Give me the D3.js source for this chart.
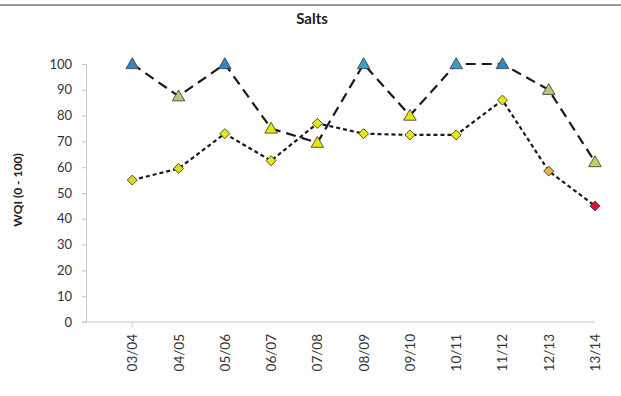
<!DOCTYPE html>
<html>
<head>
<meta charset="utf-8">
<script src="https://cdn.jsdelivr.net/npm/d3@7"></script>
<style>
  html, body { margin: 0; padding: 0; background: #fff; }
  svg { display: block; font-family: Lato, "Open Sans", sans-serif; }
</style>
</head>
<body>
<svg id="chart" width="621" height="396"></svg>
<script>
// Financial years along the category axis
const years = ["03/04", "04/05", "05/06", "06/07", "07/08", "08/09", "09/10", "10/11", "11/12", "12/13", "13/14"];
// Triangle series (long dashes)
const triangleValues = [100, 87.5, 100, 75, 69.5, 100, 80, 100, 100, 90, 62];
const triangleFills = ["#2f86c8", "#b9c47a", "#2f86c8", "#e6e60a", "#e6e60a", "#37a3c9", "#e6e60a", "#37a3c9", "#2f86c8", "#b9c47a", "#c6cf5a"];
// Diamond series (short dashes)
const diamondValues = [55, 59.5, 73, 62.5, 77, 73, 72.5, 72.5, 86, 58.5, 45];
const diamondFills = ["#d6dc1e", "#d6dc1e", "#e8e810", "#e8e810", "#e8e810", "#e8e810", "#e8e810", "#e8e810", "#e8e810", "#e2b444", "#e0103a"];
const yTicks = [0, 10, 20, 30, 40, 50, 60, 70, 80, 90, 100];

const svg = d3.select("#chart");

// Top rule line
svg.append("line")
  .attr("x1", 0).attr("x2", 621).attr("y1", 5).attr("y2", 5)
  .attr("stroke", "#9a9a9a").attr("stroke-width", 2);

// Title
svg.append("text")
  .attr("x", 312).attr("y", 24)
  .attr("text-anchor", "middle")
  .attr("font-size", 15).attr("font-weight", "bold").attr("fill", "#222")
  .text("Salts");

// Scales: first category sits one step in from the value axis
const x = d3.scaleLinear().domain([-1, years.length - 1]).range([86, 595]);
const y = d3.scaleLinear().domain([0, 100]).range([322, 64]);

// Value axis
const yAxis = d3.axisLeft(y).tickValues(yTicks).tickSize(4).tickPadding(10);
const gy = svg.append("g").attr("transform", "translate(86,0)").call(yAxis);
gy.select(".domain").attr("stroke", "#c8c8c8");
gy.selectAll(".tick line").attr("stroke", "#c8c8c8");
gy.selectAll(".tick text").attr("font-size", 13).attr("fill", "#333")
  .attr("font-family", "Lato, 'Open Sans', sans-serif");

// Category axis
svg.append("line")
  .attr("x1", x(-1) - 4).attr("x2", x(years.length - 1))
  .attr("y1", y(0)).attr("y2", y(0))
  .attr("stroke", "#c8c8c8").attr("stroke-width", 1.2);
svg.append("line")
  .attr("x1", x(0)).attr("x2", x(0)).attr("y1", y(0)).attr("y2", y(0) + 5)
  .attr("stroke", "#c8c8c8");
svg.append("g").selectAll("text").data(years).join("text")
  .attr("transform", (d, i) => `translate(${x(i) + 5},${y(0) + 12}) rotate(-90)`)
  .attr("text-anchor", "end")
  .attr("font-size", 13.5).attr("fill", "#333")
  .text(d => d);

// Y axis title
svg.append("text")
  .attr("transform", "translate(22,190) rotate(-90)")
  .attr("text-anchor", "middle")
  .attr("font-size", 12).attr("font-weight", "bold").attr("fill", "#222")
  .text("WQI (0 - 100)");

const line = d3.line().x((d, i) => x(i)).y(d => y(d));

// Diamond series line
svg.append("path").datum(diamondValues)
  .attr("d", line).attr("fill", "none")
  .attr("stroke", "#1a1a1a").attr("stroke-width", 2.2)
  .attr("stroke-dasharray", "4,3");

// Triangle series line
svg.append("path").datum(triangleValues)
  .attr("d", line).attr("fill", "none")
  .attr("stroke", "#1a1a1a").attr("stroke-width", 2.2)
  .attr("stroke-dasharray", "10,6");

// Diamond markers
const diamond = d3.symbol().type(d3.symbolSquare).size(50);
svg.append("g").selectAll("path").data(diamondValues).join("path")
  .attr("d", diamond)
  .attr("transform", (d, i) => `translate(${x(i)},${y(d)}) rotate(45)`)
  .attr("fill", (d, i) => diamondFills[i])
  .attr("stroke", "#333").attr("stroke-width", 0.8);

// Triangle markers
const tri = d3.symbol().type(d3.symbolTriangle).size(68);
svg.append("g").selectAll("path").data(triangleValues).join("path")
  .attr("d", tri)
  .attr("transform", (d, i) => `translate(${x(i)},${y(d) + 1})`)
  .attr("fill", (d, i) => triangleFills[i])
  .attr("stroke", "#333").attr("stroke-width", 0.8);
</script>
</body>
</html>
